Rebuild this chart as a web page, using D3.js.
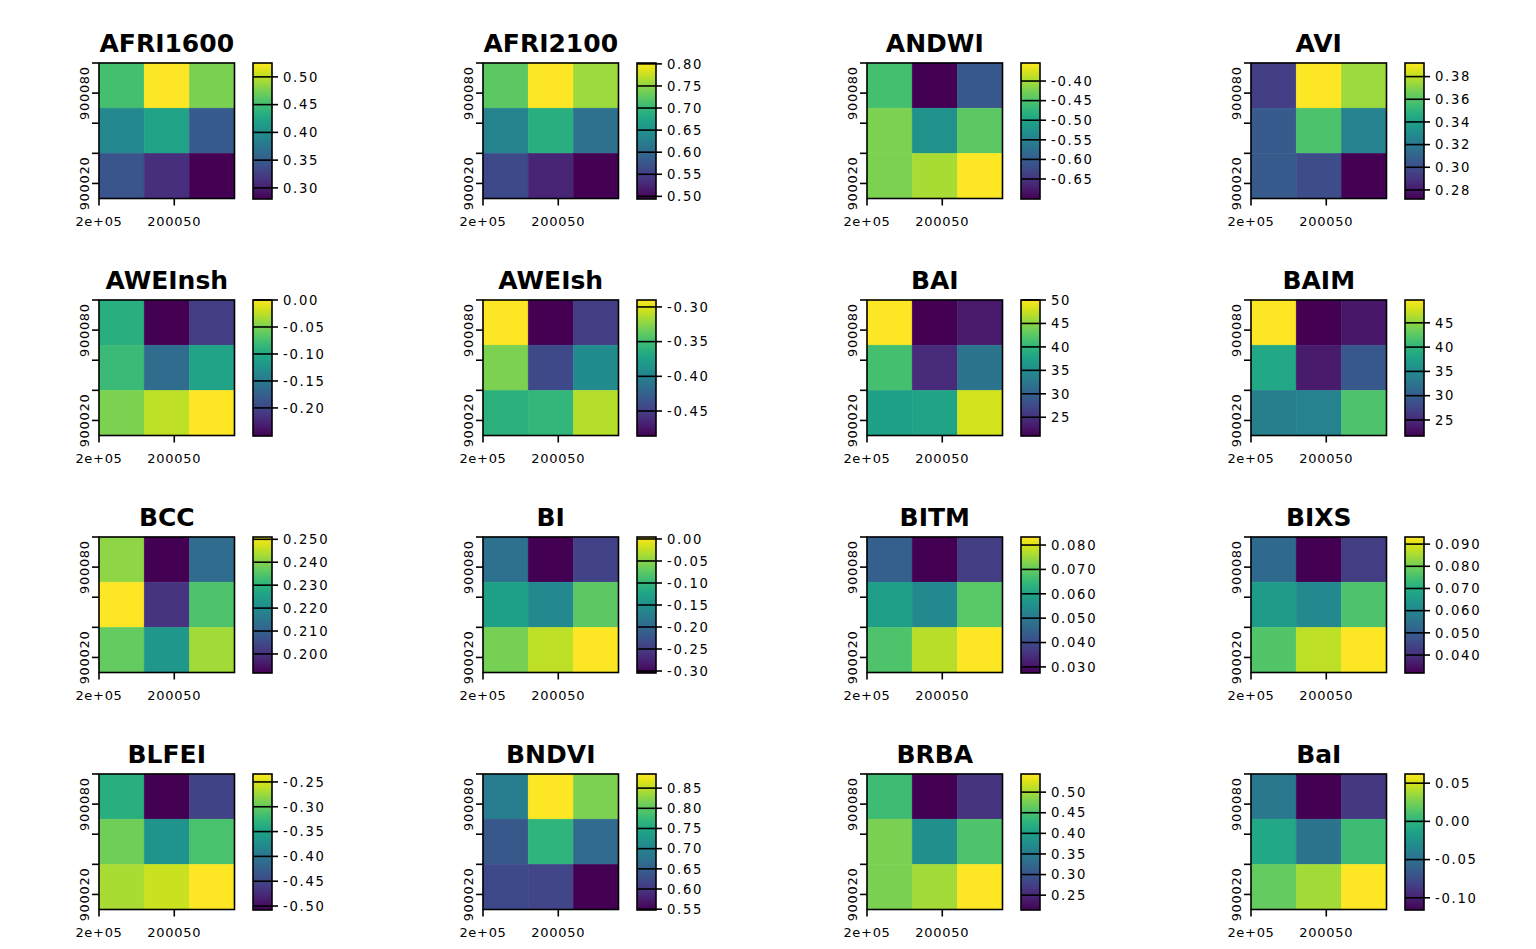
<!DOCTYPE html>
<html>
<head>
<meta charset="utf-8">
<script src="https://cdn.jsdelivr.net/npm/d3@7"></script>
<style>
  body { margin: 0; background: #fff; }
  text { font-family: "DejaVu Sans", sans-serif; fill: #000; }
  .title { font-weight: bold; font-size: 25px; }
  .axis-label { font-size: 13px; letter-spacing: 0.7px; }
  .leg-label { font-size: 13.2px; letter-spacing: 1.7px; }
</style>
</head>
<body>
<script>
// layer names, in plotting order
const layers = ["AFRI1600", "AFRI2100", "ANDWI", "AVI",
                "AWEInsh", "AWEIsh", "BAI", "BAIM",
                "BCC", "BI", "BITM", "BIXS",
                "BLFEI", "BNDVI", "BRBA", "BaI"];

// 3x3 cell values, row by row from the top
const cells = [
  [0.452, 0.525, 0.476, 0.395, 0.422, 0.349, 0.344, 0.313, 0.280],
  [0.725, 0.802, 0.756, 0.633, 0.688, 0.608, 0.562, 0.525, 0.494],
  [-0.458, -0.701, -0.607, -0.423, -0.527, -0.441, -0.423, -0.399, -0.354],
  [0.294, 0.392, 0.374, 0.306, 0.358, 0.325, 0.306, 0.300, 0.272],
  [-0.093, -0.252, -0.207, -0.081, -0.164, -0.106, -0.050, -0.025, 0.000],
  [-0.290, -0.486, -0.451, -0.329, -0.443, -0.392, -0.361, -0.357, -0.312],
  [50.0, 21.0, 23.0, 41.3, 24.5, 32.0, 37.5, 37.8, 48.0],
  [49.7, 21.7, 23.4, 38.5, 23.7, 29.3, 33.7, 34.0, 41.9],
  [0.2409, 0.1917, 0.2125, 0.2510, 0.2006, 0.2344, 0.2368, 0.2231, 0.2427],
  [-0.190, -0.3045, -0.243, -0.128, -0.159, -0.073, -0.060, -0.026, 0.0045],
  [0.0442, 0.0275, 0.0375, 0.0588, 0.0537, 0.0688, 0.0677, 0.0772, 0.0833],
  [0.0527, 0.0319, 0.0429, 0.0656, 0.0607, 0.0760, 0.0766, 0.0871, 0.0932],
  [-0.335, -0.508, -0.453, -0.294, -0.366, -0.313, -0.270, -0.256, -0.234],
  [0.690, 0.885, 0.818, 0.639, 0.767, 0.663, 0.622, 0.619, 0.548],
  [0.442, 0.214, 0.264, 0.478, 0.379, 0.452, 0.478, 0.498, 0.544],
  [-0.045, -0.116, -0.088, -0.009, -0.048, 0.007, 0.019, 0.037, 0.062]
];

// legend tick values and their decimals
const legendTicks = [
  [0.30, 0.35, 0.40, 0.45, 0.50],
  [0.50, 0.55, 0.60, 0.65, 0.70, 0.75, 0.80],
  [-0.65, -0.60, -0.55, -0.50, -0.45, -0.40],
  [0.28, 0.30, 0.32, 0.34, 0.36, 0.38],
  [-0.20, -0.15, -0.10, -0.05, 0.00],
  [-0.45, -0.40, -0.35, -0.30],
  [25, 30, 35, 40, 45, 50],
  [25, 30, 35, 40, 45],
  [0.200, 0.210, 0.220, 0.230, 0.240, 0.250],
  [-0.30, -0.25, -0.20, -0.15, -0.10, -0.05, 0.00],
  [0.030, 0.040, 0.050, 0.060, 0.070, 0.080],
  [0.040, 0.050, 0.060, 0.070, 0.080, 0.090],
  [-0.50, -0.45, -0.40, -0.35, -0.30, -0.25],
  [0.55, 0.60, 0.65, 0.70, 0.75, 0.80, 0.85],
  [0.25, 0.30, 0.35, 0.40, 0.45, 0.50],
  [-0.10, -0.05, 0.00, 0.05]
];
const legendDigits = [2, 2, 2, 2, 2, 2, 0, 0, 3, 2, 3, 3, 2, 2, 2, 2];

// raster grid (30 m cells)
const xExtent = [200000, 200090];
const yExtent = [900010, 900100];
const cellSize = 30;
const xTicks = [200000, 200050];
const xTickLabels = ["2e+05", "200050"];
const yTicks = [900020, 900040, 900060, 900080, 900100];
const yTickLabels = [900020, 900080];

const W = 1536, H = 949;
const ncol = 4;
const plotSize = 135.5;
const origin = { x: 99, y: 63 };
const step = { x: 384, y: 237 };

const svg = d3.select("body").append("svg")
  .attr("width", W).attr("height", H);

const defs = svg.append("defs");
const grad = defs.append("linearGradient").attr("id", "viridis")
  .attr("x1", 0).attr("y1", 1).attr("x2", 0).attr("y2", 0);
d3.range(0, 1.0001, 0.05).forEach(t => {
  grad.append("stop").attr("offset", t).attr("stop-color", d3.interpolateViridis(t));
});

const x = d3.scaleLinear().domain(xExtent).range([0, plotSize]);
const y = d3.scaleLinear().domain(yExtent).range([plotSize, 0]);

layers.forEach((name, i) => {
  const col = i % ncol, row = Math.floor(i / ncol);
  const g = svg.append("g")
    .attr("transform", `translate(${origin.x + col * step.x},${origin.y + row * step.y})`);

  const vals = cells[i];
  const ext = d3.extent(vals);
  const color = d3.scaleSequential(d3.interpolateViridis).domain(ext);

  // cells
  const cellData = vals.map((v, k) => ({
    v,
    x0: xExtent[0] + (k % 3) * cellSize,
    y1: yExtent[1] - Math.floor(k / 3) * cellSize
  }));
  g.selectAll("rect.cell").data(cellData).join("rect")
    .attr("class", "cell")
    .attr("x", d => x(d.x0))
    .attr("y", d => y(d.y1))
    .attr("width", d => x(d.x0 + cellSize) - x(d.x0))
    .attr("height", d => y(d.y1 - cellSize) - y(d.y1))
    .attr("fill", d => color(d.v))
    .attr("stroke", d => color(d.v))
    .attr("stroke-width", 0.5);

  // frame
  g.append("rect")
    .attr("width", plotSize).attr("height", plotSize)
    .attr("fill", "none").attr("stroke", "#000").attr("stroke-width", 1.6);

  // x axis
  g.selectAll("line.xt").data(xTicks).join("line")
    .attr("x1", d => x(d)).attr("x2", d => x(d))
    .attr("y1", plotSize).attr("y2", plotSize + 7)
    .attr("stroke", "#000").attr("stroke-width", 1.6);
  g.selectAll("text.xl").data(xTicks).join("text")
    .attr("class", "axis-label")
    .attr("x", d => x(d)).attr("y", plotSize + 27)
    .attr("text-anchor", "middle")
    .text((d, k) => xTickLabels[k]);

  // y axis
  g.selectAll("line.yt").data(yTicks).join("line")
    .attr("x1", 0).attr("x2", -7)
    .attr("y1", d => y(d)).attr("y2", d => y(d))
    .attr("stroke", "#000").attr("stroke-width", 1.6);
  g.selectAll("text.yl").data(yTickLabels).join("text")
    .attr("class", "axis-label")
    .attr("transform", d => `translate(-10,${y(d)}) rotate(-90)`)
    .attr("text-anchor", "middle")
    .text(d => d);

  // title
  g.append("text").attr("class", "title")
    .attr("x", plotSize / 2).attr("y", -11)
    .attr("text-anchor", "middle")
    .text(name);

  // legend
  const lg = g.append("g").attr("transform", "translate(154,0)");
  const ly = d3.scaleLinear().domain(ext).range([136, 0]);
  lg.append("rect").attr("width", 19).attr("height", 136)
    .attr("fill", "url(#viridis)");
  lg.selectAll("line").data(legendTicks[i]).join("line")
    .attr("x1", 0).attr("x2", 25)
    .attr("y1", d => ly(d)).attr("y2", d => ly(d))
    .attr("stroke", "#000").attr("stroke-width", 1.6);
  lg.append("rect").attr("width", 19).attr("height", 136)
    .attr("fill", "none").attr("stroke", "#000").attr("stroke-width", 1.6);
  lg.selectAll("text").data(legendTicks[i]).join("text")
    .attr("class", "leg-label")
    .attr("x", 30).attr("y", d => ly(d))
    .attr("dy", "0.36em")
    .text(d => d.toFixed(legendDigits[i]));
});
</script>
</body>
</html>
